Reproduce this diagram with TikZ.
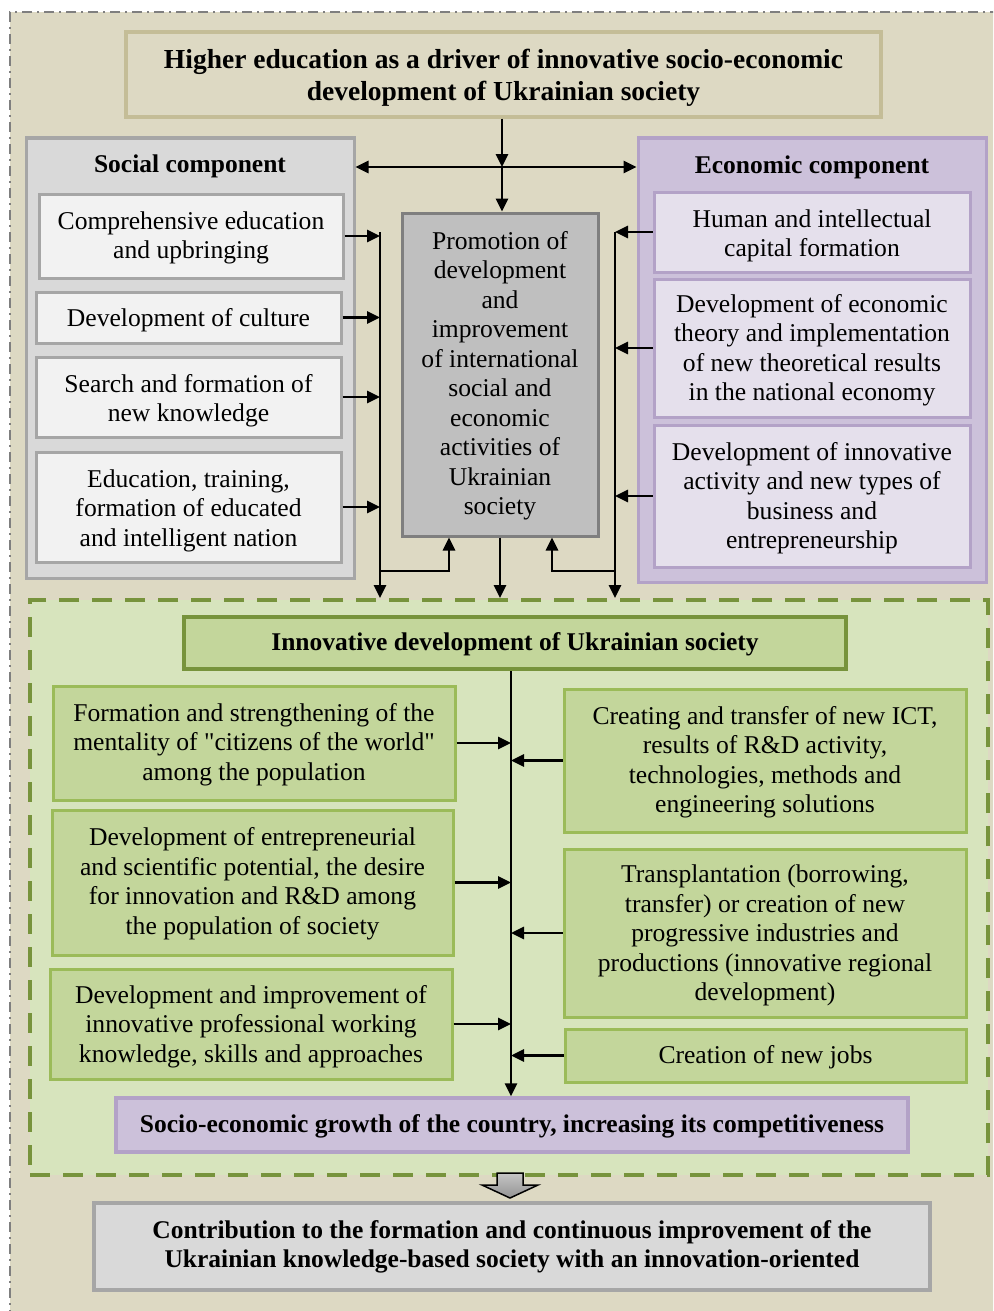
\documentclass[tikz,border=0pt]{standalone}
\usepackage{fontspec}
\setmainfont{Liberation Serif}
\usetikzlibrary{arrows.meta,calc}
\definecolor{bgbeige}{HTML}{DDD9C3}
\definecolor{framegray}{HTML}{7F7F7F}
\definecolor{titlebd}{HTML}{C4BD97}
\definecolor{socfill}{HTML}{D9D9D9}
\definecolor{socbd}{HTML}{A6A6A6}
\definecolor{socin}{HTML}{F2F2F2}
\definecolor{midfill}{HTML}{BFBFBF}
\definecolor{midbd}{HTML}{7F7F7F}
\definecolor{ecofill}{HTML}{CCC1DA}
\definecolor{ecobd}{HTML}{B3A2C7}
\definecolor{ecoin}{HTML}{E5E0EC}
\definecolor{grfill}{HTML}{D7E4BD}
\definecolor{grdark}{HTML}{77933C}
\definecolor{grbox}{HTML}{C3D69B}
\definecolor{grbd}{HTML}{9BBB59}
\newcommand\bodyf{\fontsize{25.6}{29.5}\selectfont}
\newcommand\titf{\fontsize{27.5}{32}\selectfont\bfseries}
\newcommand\headf{\fontsize{25.5}{28.5}\selectfont\bfseries}
\newcommand\tx[2][3]{\raisebox{-#1pt}[\height][\depth]{\begin{tabular}{@{}c@{}}#2\end{tabular}}}
\newcommand\rbox[7]{\node[#1, minimum width={(#5)-(#3)}, minimum height={(#6)-(#4)}] (#2) at ({((#3)+(#5))/2},{((#4)+(#6))/2}) {#7};}
\tikzset{
  base/.style={rectangle, align=center, inner sep=2pt, font=\bodyf},
  titlebox/.style={base, font=\titf, fill=bgbeige, draw=titlebd, line width=3.5pt},
  socouter/.style={base, fill=socfill, draw=socbd, line width=3pt},
  socbox/.style={base, fill=socin, draw=socbd, line width=3pt},
  midbox/.style={base, fill=midfill, draw=midbd, line width=3pt},
  ecoouter/.style={base, fill=ecofill, draw=ecobd, line width=3pt},
  ecobox/.style={base, fill=ecoin, draw=ecobd, line width=3pt},
  gframe/.style={base, fill=grfill, draw=grdark, line width=4pt, dash pattern=on 20pt off 13pt},
  innovbox/.style={base, font=\headf, fill=grbox, draw=grdark, line width=4pt},
  grnbox/.style={base, fill=grbox, draw=grbd, line width=3pt},
  purpbox/.style={base, font=\headf, fill=ecofill, draw=ecobd, line width=3.5pt},
  botbox/.style={base, font=\headf, fill=socfill, draw=socbd, line width=4pt},
  headtext/.style={font=\headf, inner sep=0pt},
  arr/.style={line width=2.8pt, -{Triangle[length=13pt,width=12pt]}},
  arrb/.style={line width=2.8pt, {Triangle[length=13pt,width=12pt]}-{Triangle[length=13pt,width=12pt]}},
}
\begin{document}
\begin{tikzpicture}[x=1pt,y=-1pt]
\useasboundingbox (0,0) rectangle (993,1311);
\begin{scope}
\clip (0,0) rectangle (993,1311);
\fill[bgbeige] (10,12) rectangle (1000,1320);
\draw[framegray, line width=2.5pt, dash pattern=on 10pt off 5pt on 2pt off 5pt] (1000,12) -- (10,12) -- (10,1320);
\end{scope}
% title
\rbox{titlebox}{title}{126}{32}{881}{117}{\tx[4]{Higher education as a driver of innovative socio-economic\\development of Ukrainian society}}
% social component
\rbox{socouter}{social}{26}{138}{354}{578}{}
\node[headtext] (socT) at (190,166) {Social component};
\rbox{socbox}{s1}{39}{194}{343}{278}{\tx[2]{Comprehensive education\\and upbringing}}
\rbox{socbox}{s2}{36}{292}{341}{343}{\tx{Development of culture}}
\rbox{socbox}{s3}{36}{357}{341}{437}{\tx[4]{Search and formation of\\new knowledge}}
\rbox{socbox}{s4}{36}{452}{341}{562}{\tx[4]{Education, training,\\formation of educated\\and intelligent nation}}
% middle
\rbox{midbox}{mid}{402}{213}{598}{536}{\tx[1.5]{Promotion of\\development\\and\\improvement\\of international\\social and\\economic\\activities of\\Ukrainian\\society}}
% economic component
\rbox{ecoouter}{econ}{638}{138}{986}{582}{}
\node[headtext] (ecoT) at (812,167) {Economic component};
\rbox{ecobox}{e1}{654}{192}{970}{272}{\tx[4]{Human and intellectual\\capital formation}}
\rbox{ecobox}{e2}{654}{279}{970}{417}{\tx[2.5]{Development of economic\\theory and implementation\\of new theoretical results\\in the national economy}}
\rbox{ecobox}{e3}{654}{425}{970}{567}{\tx[2.5]{Development of innovative\\activity and new types of\\business and\\entrepreneurship}}
% green frame
\rbox{gframe}{gfr}{30}{600}{988}{1175}{}
\rbox{innovbox}{innov}{184}{617}{846}{669}{\tx[2]{Innovative development of Ukrainian society}}
\rbox{grnbox}{L1}{53}{686}{455}{800}{\tx[2]{Formation and strengthening of the\\mentality of \textquotedbl citizens of the world\textquotedbl\\among the population}}
\rbox{grnbox}{L2}{52}{810}{453}{955}{\tx[1.5]{Development of entrepreneurial\\and scientific potential, the desire\\for innovation and R\&D among\\the population of society}}
\rbox{grnbox}{L3}{50}{969}{452}{1079}{\tx[3]{Development and improvement of\\innovative professional working\\knowledge, skills and approaches}}
\rbox{grnbox}{R1}{564}{689}{966}{832}{\tx[2]{Creating and transfer of new ICT,\\results of R\&D activity,\\technologies, methods and\\engineering solutions}}
\rbox{grnbox}{R2}{564}{849}{966}{1017}{\tx[3]{Transplantation (borrowing,\\transfer) or creation of new\\progressive industries and\\productions (innovative regional\\development)}}
\rbox{grnbox}{R3}{565}{1029}{966}{1082}{\tx[2]{Creation of new jobs}}
\rbox{purpbox}{purp}{116}{1098}{908}{1152}{\tx[2]{Socio-economic growth of the country, increasing its competitiveness}}
% bottom
\rbox{botbox}{bottom}{94}{1203}{930}{1290}{\tx[1]{Contribution to the formation and continuous improvement of the\\Ukrainian knowledge-based society with an innovation-oriented}}
% connectors top
\coordinate (jn) at (502,167);
\draw[arr] (title.south -| jn) -- (jn);
\draw[arr] (jn) -- (mid.north -| jn);
\draw[arrb] (social.east |- jn) -- (econ.west |- jn);
% left collector
\coordinate (vLt) at (380,232);
\coordinate (bL) at (380,571);
\draw[arr] (vLt) -- (vLt |- gfr.north);
\foreach \n in {s1,s2,s3,s4} \draw[arr] (\n.east) -- (\n.east -| vLt);
\draw[arr] (bL) -| ($(mid.south)+(-51,0)$);
% right collector
\coordinate (vRt) at (615,232);
\coordinate (bR) at (615,571);
\draw[arr] (vRt) -- (vRt |- gfr.north);
\foreach \n in {e1,e2,e3} \draw[arr] (\n.west) -- (\n.west -| vRt);
\draw[arr] (bR) -| ($(mid.south)+(52,0)$);
\draw[arr] (mid.south) -- (mid.south |- gfr.north);
% inner spine
\coordinate (vc) at (511,0);
\draw[arr] (innov.south -| vc) -- (purp.north -| vc);
\foreach \n in {L1,L2,L3} \draw[arr] (\n.east) -- (\n.east -| vc);
\foreach \n in {R1,R2,R3} \draw[arr] (\n.west) -- (\n.west -| vc);
% block arrow
\coordinate (ba) at (510,1173);
\draw[line width=1.5pt, top color=gray!45, bottom color=gray!85, draw=black]
  ($(ba)+(-13,0)$) -- ($(ba)+(13,0)$) -- ($(ba)+(13,12)$) -- ($(ba)+(28,12)$) -- ($(ba)+(0,25)$) -- ($(ba)+(-28,12)$) -- ($(ba)+(-13,12)$) -- cycle;
\end{tikzpicture}
\end{document}
